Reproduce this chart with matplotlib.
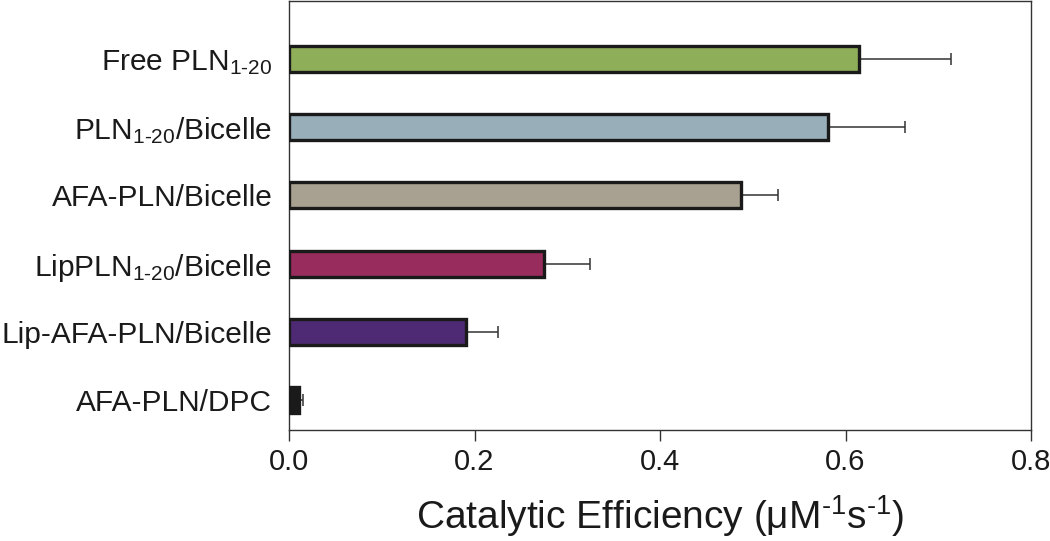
import matplotlib
matplotlib.use("Agg")
import matplotlib.pyplot as plt

categories = [r"Free PLN$_{\text{1-20}}$",
              r"PLN$_{\text{1-20}}$/Bicelle",
              "AFA-PLN/Bicelle",
              r"LipPLN$_{\text{1-20}}$/Bicelle",
              "Lip-AFA-PLN/Bicelle",
              "AFA-PLN/DPC"]
values = [0.615, 0.581, 0.487, 0.275, 0.191, 0.011]
errors = [0.099, 0.083, 0.040, 0.050, 0.034, 0.004]
colors = ["#8FAE5A", "#98AFBA", "#A8A090", "#982C5C", "#4E2A74", "#1A1A1A"]
xticks = [0.0, 0.2, 0.4, 0.6, 0.8]

plt.rcParams["mathtext.fontset"] = "custom"
plt.rcParams["mathtext.rm"] = "Liberation Sans"
plt.rcParams["mathtext.it"] = "Liberation Sans"
plt.rcParams["font.family"] = ["Liberation Sans", "DejaVu Sans"]

fig = plt.figure(figsize=(10.5, 5.41), dpi=100)
ax = fig.add_axes([289/1050, 1 - 430/541, (1031-289)/1050, 429/541])

pos = list(range(len(categories)))
ax.barh(pos, values, height=0.38, color=colors, edgecolor="#1a1a1a",
        linewidth=2.4, zorder=3)
ax.errorbar(values, pos, xerr=[[0]*len(errors), errors], fmt="none",
            ecolor="#333333", elinewidth=1.1, capsize=4, capthick=1.1, zorder=2)

ax.set_xlim(0, 0.8)
ax.set_ylim(5.44, -0.85)
ax.set_yticks(pos)
ax.set_yticklabels(categories, fontsize=21.5, color="#1a1a1a")
ax.tick_params(axis="y", length=0, pad=12)
ax.set_xticks(xticks)
ax.set_xticklabels([f"{t:.1f}" for t in xticks], fontsize=21, color="#1a1a1a")
ax.tick_params(axis="x", length=8, width=1, color="#333333", pad=5)

for s in ax.spines.values():
    s.set_color("#333333")
    s.set_linewidth(1.0)

ax.set_xlabel(r"Catalytic Efficiency ($\mu$M$^{\text{-1}}$s$^{\text{-1}}$)",
              fontsize=28, color="#1a1a1a", labelpad=12)

fig.savefig("out.png", dpi=100)
